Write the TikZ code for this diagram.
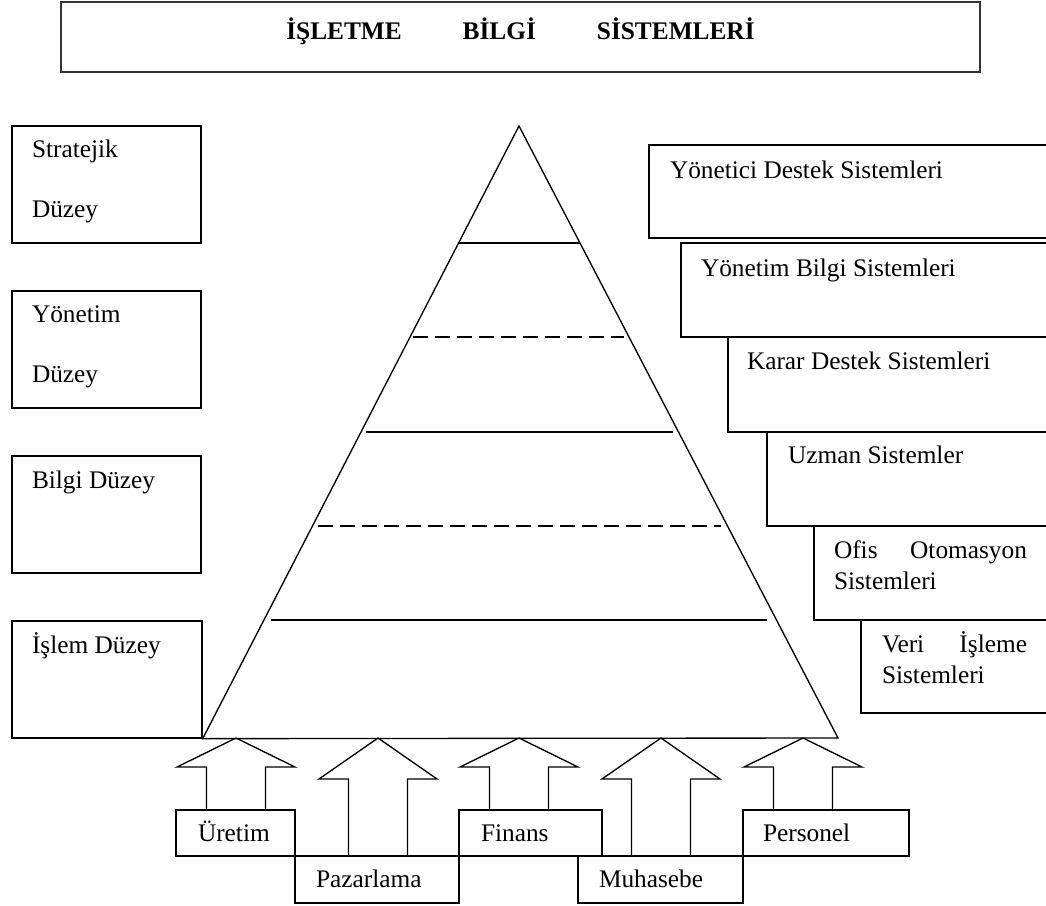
\documentclass[tikz,border=0pt]{standalone}
\usepackage{fontspec}
\setmainfont{Liberation Serif}
\usetikzlibrary{fit,calc}
% upward block arrow: #1 tip, #2 head height, #3 distance from tip to shaft foot
\newcommand\blockup[3]{%
  \draw (#1) ++(-29.5,#3) -- ++(0,{#2-#3}) -- ++(-29.5,0) -- (#1)
        -- ++(59,#2) -- ++(-29.5,0) -- ++(0,{#3-#2});}
\begin{document}
\begin{tikzpicture}[x=0.75pt,y=-0.75pt,line width=1pt,line join=miter,
  box/.style={draw,rectangle,inner sep=0pt},
  txt/.style={inner sep=0pt,anchor=base west,font=\fontsize{19}{23}\selectfont},
  ttl/.style={inner sep=0pt,anchor=base,font=\fontsize{19}{23}\selectfont\bfseries},
  dash line/.style={dash pattern=on 11.25pt off 5.25pt}]
\useasboundingbox (0,0) rectangle (1046,906);
\clip (0,0) rectangle (1046,906);

% title
\node[box,line width=1.4pt,draw=black!80,fit={(61,2) (980,72)}] (title) {};
\node[ttl] (titletext) at ([yshift=-28.5pt]title.north)
  {İŞLETME\hspace{45.75pt}BİLGİ\hspace{45.75pt}SİSTEMLERİ};

% levels on the left
\node[box,fit={(12,126) (201,243)}] (strat) {};
\node[box,fit={(12,291) (201,408)}] (yon) {};
\node[box,fit={(12,456) (201,573)}] (bilgi) {};
\node[box,fit={(12,621) (202,738)}] (islem) {};
\node[txt] (strat1) at ([shift={(20,32)}]strat.north west) {Stratejik};
\node[txt] (strat2) at ([shift={(20,92)}]strat.north west) {Düzey};
\node[txt] (yon1) at ([shift={(20,32)}]yon.north west) {Yönetim};
\node[txt] (yon2) at ([shift={(20,92)}]yon.north west) {Düzey};
\node[txt] (bilgi1) at ([shift={(20,33)}]bilgi.north west) {Bilgi Düzey};
\node[txt] (islem1) at ([shift={(20,33)}]islem.north west) {İşlem Düzey};

% pyramid
\coordinate (apex) at (519,126);
\coordinate (br) at (838,738);
\draw (apex) -- (islem.south east) -- (br) -- cycle;
\draw (459,243) -- (580,243);
\draw[dash line] (413,337) -- (624,337);
\draw (366,432) -- (673,432);
\draw[dash line] (318,526) -- (721,526);
\draw (271,620) -- (767,620);

% information systems on the right (open towards the right margin)
\node[box,fit={(649,145) (1060,238)}] (yds) {};
\node[box,fit={(681,243) (1060,337)}] (ybs) {};
\node[box,fit={(728,337) (1060,432)}] (kds) {};
\node[box,fit={(767,432) (1060,526)}] (us) {};
\node[box,fit={(814,526) (1060,620)}] (oos) {};
\node[box,fit={(861,620) (1060,713)}] (vis) {};
\node[txt] (yds1) at ([shift={(21,34)}]yds.north west) {Yönetici Destek Sistemleri};
\node[txt] (ybs1) at ([shift={(20,34)}]ybs.north west) {Yönetim Bilgi Sistemleri};
\node[txt] (kds1) at ([shift={(19,33)}]kds.north west) {Karar Destek Sistemleri};
\node[txt] (us1) at ([shift={(21,32)}]us.north west) {Uzman Sistemler};
\node[txt] (oos1) at ([shift={(20,33)}]oos.north west) {\makebox[144.75pt][s]{Ofis Otomasyon}};
\node[txt] (oos2) at ([shift={(20,64)}]oos.north west) {Sistemleri};
\node[txt] (vis1) at ([shift={(21,33)}]vis.north west) {\makebox[108.75pt][s]{Veri İşleme}};
\node[txt] (vis2) at ([shift={(21,64)}]vis.north west) {Sistemleri};

% functional areas
\node[box,fit={(176,810) (295,856)}] (ure) {};
\node[box,fit={(295,856) (459,903)}] (paz) {};
\node[box,fit={(459,810) (602,856)}] (fin) {};
\node[box,fit={(578,856) (743,903)}] (muh) {};
\node[box,fit={(743,810) (909,856)}] (per) {};
\node[txt] (ure1) at ([shift={(22,32)}]ure.north west) {Üretim};
\node[txt] (paz1) at ([shift={(21,32)}]paz.north west) {Pazarlama};
\node[txt] (fin1) at ([shift={(22,32)}]fin.north west) {Finans};
\node[txt] (muh1) at ([shift={(21,32)}]muh.north west) {Muhasebe};
\node[txt] (per1) at ([shift={(20,32)}]per.north west) {Personel};

% arrows feeding the pyramid base
\coordinate (a1) at (236,738);
\coordinate (a2) at (378,738);
\coordinate (a3) at (519,738);
\coordinate (a4) at (661,738);
\coordinate (a5) at (803,738);
\blockup{a1}{29}{72}
\blockup{a2}{41}{118}
\blockup{a3}{29}{72}
\blockup{a4}{41}{118}
\blockup{a5}{29}{72}
\end{tikzpicture}
\end{document}
